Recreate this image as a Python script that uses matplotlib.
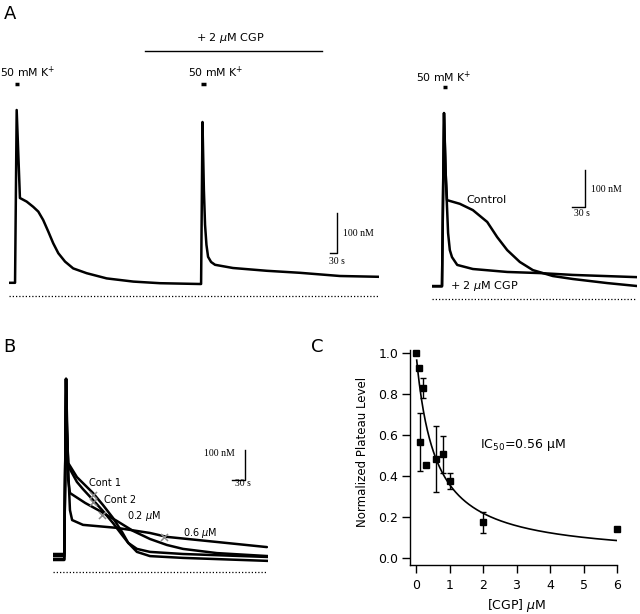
import matplotlib
matplotlib.use('Agg')
import matplotlib.pyplot as plt
import numpy as np

plt.rcParams['font.family'] = ['DejaVu Sans']
plt.rcParams['mathtext.fontset'] = 'dejavusans'

# ---------------- data ----------------
# Panel A (left): long recording, time (s) vs [Ca2+] (nM above dotted reference)
a1_t = [0, 26, 33, 47, 76, 104, 126, 147, 169, 190, 212, 241, 276, 334, 420, 535, 649, 821,
        826, 832, 838, 843, 849, 856, 869, 886, 963, 1109, 1251, 1423, 1591]
a1_c = [33, 33, 465, 245, 236, 223, 211, 190, 161, 132, 107, 86, 69, 57, 44, 36, 32, 30,
        30, 435, 265, 178, 128, 98, 85, 78, 70, 63, 58, 50, 48]

# Panel A (right): control vs + 2 uM CGP
a2_ctrl_t = [0, 23, 27.6, 31, 34.5, 64, 94, 127, 150, 173, 202, 232, 278, 324, 403, 472]
a2_ctrl_c = [35, 35, 502, 348, 267, 257, 240, 208, 167, 132, 100, 78, 62, 54, 43, 35]
a2_cgp_t = [0, 23, 27.6, 32, 37, 41, 46, 58, 94, 173, 248, 324, 472]
a2_cgp_c = [34, 34, 502, 321, 178, 132, 113, 92, 81, 73, 70, 65, 59]

# Panel B: superimposed responses
b_t = [0, 26, 30, 32, 35, 55, 69, 92, 115, 138, 159, 173, 193, 223, 299, 495]
b_cont1 = [43, 43, 643, 473, 363, 316, 296, 263, 223, 180, 133, 97, 67, 53, 47, 37]
b_cont2 = [53, 53, 643, 466, 353, 300, 276, 240, 203, 163, 123, 97, 77, 67, 60, 50]
b02_t = [0, 26, 30, 32, 35, 39, 74, 108, 147, 184, 223, 262, 299, 377, 495]
b02_c = [60, 60, 643, 440, 306, 263, 230, 203, 170, 137, 110, 90, 77, 63, 53]
b06_t = [0, 26, 30, 35, 39, 44, 69, 147, 223, 262, 377, 492]
b06_c = [40, 40, 643, 340, 206, 173, 157, 147, 130, 117, 100, 83]
b_mark_t = [92, 92, 113, 255]
b_mark_c = [256, 233, 190, 117]

# Panel C: dose-response
cgp_x = [0, 0.1, 0.13, 0.2, 0.3, 0.6, 0.8, 1.0, 2.0, 6.0]
plateau_y = [1.0, 0.925, 0.567, 0.83, 0.455, 0.483, 0.506, 0.377, 0.174, 0.143]
plateau_err = [0, 0, 0.14, 0.05, 0, 0.16, 0.09, 0.04, 0.05, 0]
IC50 = 0.56
x_ticks = [0, 1, 2, 3, 4, 5, 6]
y_ticks = [0.0, 0.2, 0.4, 0.6, 0.8, 1.0]

# ---------------- figure ----------------
W, H = 640, 614
fig = plt.figure(figsize=(6.4, 6.14), dpi=100)
fig.patch.set_facecolor('white')

def pax(x0, x1, y0, y1, xlim, ylim):
    ax = fig.add_axes([x0 / W, 1 - y1 / H, (x1 - x0) / W, (y1 - y0) / H])
    ax.set_xlim(*xlim)
    ax.set_ylim(*ylim)
    ax.axis('off')
    return ax

LW = 1.8
SERIF = dict(family='Liberation Serif', fontsize=7)
DOT = dict(color='black', lw=0.9, linestyle=(0, (1, 1.6)))
TR = dict(color='black', lw=LW, solid_joinstyle='round', solid_capstyle='round')

# Panel labels
fig.text(4 / W, 1 - 14 / H, 'A', fontsize=13, va='center', ha='left')
fig.text(3 / W, 1 - 347 / H, 'B', fontsize=13, va='center', ha='left')
fig.text(311 / W, 1 - 347 / H, 'C', fontsize=13, va='center', ha='left')

# ---- A left ----
ax1 = pax(9, 379, 40, 300, (0, 1591), (-10, 640))
ax1.plot(a1_t, a1_c, **TR)
ax1.plot([0, 1591], [0, 0], **DOT)
for tc in (80, 888):
    ax1.text(tc, 560, '50 mM K$^{+}$', ha='center', va='center', fontsize=7.8)
ax1.plot([26, 43], [530, 530], color='black', lw=2.5, solid_capstyle='butt')
ax1.plot([826, 847], [530, 530], color='black', lw=2.5, solid_capstyle='butt')
ax1.plot([585, 1346], [612, 612], color='black', lw=1.0)
ax1.text(950, 645, '+ 2 $\\mu$M CGP', ha='center', va='center', fontsize=8)
ax1.plot([1380, 1410, 1410], [107.5, 107.5, 207.5], color='black', lw=1.0)
ax1.text(1436, 157, '100 nM', ha='left', va='center', **SERIF)
ax1.text(1375, 85, '30 s', ha='left', va='center', **SERIF)

# ---- A right ----
ax2 = pax(432, 637, 40, 305, (0, 471.5), (-16.2, 699.3))
ax2.plot(a2_ctrl_t, a2_ctrl_c, **TR)
ax2.plot(a2_cgp_t, a2_cgp_c, **TR)
ax2.plot([0, 471.5], [0, 0], **DOT)
ax2.text(28, 599, '50 mM K$^{+}$', ha='center', va='center', fontsize=7.8)
ax2.plot([25, 35], [572, 572], color='black', lw=2.5, solid_capstyle='butt')
ax2.text(80, 267, 'Control', ha='left', va='center', fontsize=8)
ax2.text(41, 35, '+ 2 $\\mu$M CGP', ha='left', va='center', fontsize=8)
ax2.plot([322, 352, 352], [248, 248, 348], color='black', lw=1.0)
ax2.text(366, 297, '100 nM', ha='left', va='center', **SERIF)
ax2.text(345, 230, '30 s', ha='center', va='center', **SERIF)

# ---- B ----
ax3 = pax(53, 268, 360, 580, (0, 494.5), (-26.6, 706))
ax3.plot(b_t, b_cont1, **TR)
ax3.plot(b_t, b_cont2, **TR)
ax3.plot(b02_t, b02_c, **TR)
ax3.plot(b06_t, b06_c, **TR)
ax3.plot([0, 494.5], [0, 0], **DOT)
ax3.scatter(b_mark_t, b_mark_c, marker='x', s=26, color='#8a8a8a', linewidths=1.1, zorder=5)
ax3.text(83, 296, 'Cont 1', ha='left', va='center', fontsize=7)
ax3.text(117, 240, 'Cont 2', ha='left', va='center', fontsize=7)
ax3.text(170, 186, '0.2 $\\mu$M', ha='left', va='center', fontsize=7)
ax3.text(299, 130, '0.6 $\\mu$M', ha='left', va='center', fontsize=7)
ax3.plot([412, 442, 442], [306, 306, 406], color='black', lw=1.0)
ax3.text(419, 396, '100 nM', ha='right', va='center', **SERIF)
ax3.text(437, 296, '30 s', ha='center', va='center', **SERIF)

# ---- C ----
x0, x1, y0, y1 = 410, 617, 350, 565
axc = fig.add_axes([x0 / W, 1 - y1 / H, (x1 - x0) / W, (y1 - y0) / H])
axc.set_xlim(-0.18, 6.0)
axc.set_ylim(-0.034, 1.015)
for s in ('top', 'right'):
    axc.spines[s].set_visible(False)
for s in ('left', 'bottom'):
    axc.spines[s].set_linewidth(1.0)
axc.tick_params(direction='out', length=5.5, width=1.0, labelsize=9)
axc.tick_params(axis='x', pad=4.5)
axc.tick_params(axis='y', pad=3)
axc.set_xticks(x_ticks)
axc.set_xticklabels([str(v) for v in x_ticks])
axc.set_yticks(y_ticks)
axc.set_yticklabels(['%.1f' % v for v in y_ticks])

xf = np.linspace(0.02, 6.0, 300)
axc.plot(xf, 1.0 / (1.0 + xf / IC50), color='black', lw=1.2)
ex = [x for x, e in zip(cgp_x, plateau_err) if e > 0]
ey = [y for y, e in zip(plateau_y, plateau_err) if e > 0]
ee = [e for e in plateau_err if e > 0]
axc.errorbar(ex, ey, yerr=ee, fmt='none', ecolor='black', elinewidth=1.0,
             capsize=2.5, capthick=1.0)
axc.plot(cgp_x, plateau_y, 's', color='black', ms=5, clip_on=False, zorder=5)
axc.text(1.9, 0.55, 'IC$_{50}$=0.56 $\\mathrm{\\mu}$M', ha='left', va='center', fontsize=9)

axc.set_ylabel('Normalized Plateau Level', fontsize=8.5)
axc.yaxis.label.set_va('center')
axc.yaxis.set_label_coords((362 - x0) / (x1 - x0), (y1 - 452) / (y1 - y0))
axc.set_xlabel('[CGP] $\\mu$M', fontsize=9)
axc.xaxis.label.set_va('center')
axc.xaxis.set_label_coords((517 - x0) / (x1 - x0), (y1 - 605) / (y1 - y0))

fig.savefig('out.png', dpi=100, facecolor='white')
